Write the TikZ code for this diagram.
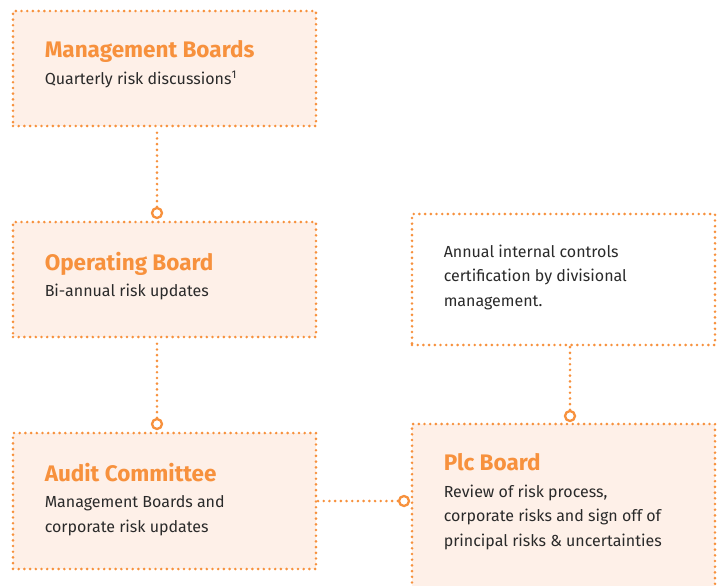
\documentclass[tikz,border=0pt]{standalone}
\usepackage{fontspec}
\setmainfont{Fira Sans}
\usepackage{xcolor}
\usetikzlibrary{positioning}
\definecolor{riskorange}{HTML}{F7913D}
\definecolor{riskpeach}{HTML}{FEF0E8}
\definecolor{risktext}{HTML}{2A2A2A}
\newcommand{\boxtitle}[1]{{\fontsize{22.5}{26}\selectfont\bfseries\color{riskorange}#1}}

\begin{document}
\begin{tikzpicture}[x=1pt, y=-1pt, font=\fontsize{16}{24.5}\selectfont]
\tikzstyle{dotline}=[riskorange, line width=2.9pt, line cap=round, dash pattern=on 0pt off 5.7pt]
\tikzstyle{riskbox}=[rectangle, draw, dotline, fill=riskpeach, minimum width=303pt, inner sep=0pt]
\tikzstyle{whitebox}=[riskbox, fill=white]
\tikzstyle{knob}=[circle, draw=riskorange, line width=2.3pt, fill=white, minimum size=10pt, inner sep=0pt]
\tikzstyle{boxtext}=[anchor=north west, align=left, text=risktext, inner sep=0pt]
\useasboundingbox (0,0) rectangle (720,586);
\clip (0,0) rectangle (720,586);
% boxes
\node[riskbox, minimum height=115pt] (mgmt) at (164.5,68.5) {};
\node[riskbox, minimum height=115pt] (opb) at (164.5,279.5) {};
\node[riskbox, minimum height=136pt] (audit) at (164.5,501) {};
\node[whitebox, minimum height=131pt] (annual) at (563.5,279.5) {};
\node[riskbox, minimum height=176pt] (plc) at (563.5,512) {};
% texts
\node[boxtext, below right=31pt and 33pt of mgmt.north west] (mgmt-text)
  {\boxtitle{Management Boards}\\[2pt] Quarterly risk discussions\textsuperscript{1}};
\node[boxtext, below right=31pt and 33pt of opb.north west] (opb-text)
  {\boxtitle{Operating Board}\\[2pt] Bi-annual risk updates};
\node[boxtext, below right=31pt and 33pt of audit.north west] (audit-text)
  {\boxtitle{Audit Committee}\\[2pt] Management Boards and\\ corporate risk updates};
\node[boxtext, below right=31pt and 33pt of plc.north west] (plc-text)
  {\boxtitle{Plc Board}\\[2pt] Review of risk process,\\ corporate risks and sign off of\\ principal risks \& uncertainties};
\node[boxtext, below right=32pt and 33pt of annual.north west] (annual-text)
  {Annual internal controls\\ certification by divisional\\ management.};
% knobs and connectors
\node[knob] (k1) at (157,213) {};
\node[knob] (k2) at (157,424) {};
\node[knob] (k3) at (404,501) {};
\node[knob] (k4) at (570,416) {};
\draw[dotline] (k1.north) -- (k1.north |- mgmt.south);
\draw[dotline] (k2.north) -- (k2.north |- opb.south);
\draw[dotline] (k3.west) -- (audit.east);
\draw[dotline] (k4.north) -- (k4.north |- annual.south);
\end{tikzpicture}
\end{document}
